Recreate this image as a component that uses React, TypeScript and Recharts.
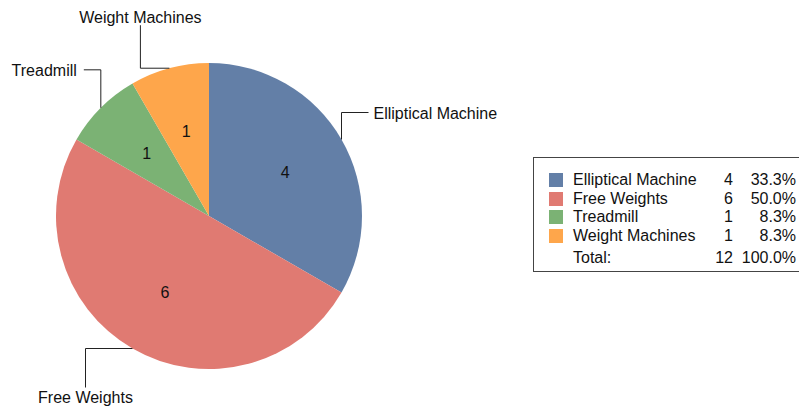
import { Cell, Pie, PieChart } from 'recharts';

const categories = ['Elliptical Machine', 'Free Weights', 'Treadmill', 'Weight Machines'];
const counts = [4, 6, 1, 1];
const percents = ['33.3%', '50.0%', '8.3%', '8.3%'];
const totalLabel = 'Total:';
const totalCount = 12;
const totalPercent = '100.0%';

const COLORS = ['#637fa7', '#e07a72', '#7bb274', '#fea64b'];
const FONT = 'Arial, "Liberation Sans", sans-serif';
const FS = 16;

// elbow leader for each slice: which way it leaves the edge first, and how far
const LEADERS = [
  { first: 'v', d1: -27, d2: 27, anchor: 'start' },
  { first: 'h', d1: -47, d2: 39, anchor: 'middle' },
  { first: 'v', d1: -38, d2: -17, anchor: 'end' },
  { first: 'h', d1: -29, d2: -43, anchor: 'middle' },
];

const data = categories.map((name, i) => ({ name, value: counts[i] }));

const RAD = Math.PI / 180;

const renderLabel = (props: any) => {
  const { cx, cy, midAngle, outerRadius, index, value, name } = props;
  const cos = Math.cos(-midAngle * RAD);
  const sin = Math.sin(-midAngle * RAD);
  const ix = cx + outerRadius * 0.575 * cos;
  const iy = cy + outerRadius * 0.575 * sin;
  const ex = cx + outerRadius * cos;
  const ey = cy + outerRadius * sin;
  const l = LEADERS[index];
  let mx: number, my: number, tx: number, ty: number;
  if (l.first === 'v') {
    mx = ex;
    my = ey + l.d1;
    tx = mx + l.d2;
    ty = my;
  } else {
    mx = ex + l.d1;
    my = ey;
    tx = mx;
    ty = my + l.d2;
  }
  let textX = tx;
  let textY = ty + 1;
  if (l.anchor === 'start') textX = tx + 5;
  if (l.anchor === 'end') textX = tx - 7;
  if (l.anchor === 'middle') textY = l.d2 > 0 ? ty + 10 : ty - 8;
  return (
    <g>
      <text x={ix} y={iy} textAnchor="middle" dominantBaseline="central" fontSize={FS} fontFamily={FONT} fill="#111">
        {value}
      </text>
      <polyline points={`${ex},${ey} ${mx},${my} ${tx},${ty}`} fill="none" stroke="#222" strokeWidth={1} />
      <text x={textX} y={textY} textAnchor={l.anchor as any} dominantBaseline="central" fontSize={FS} fontFamily={FONT} fill="#111">
        {name}
      </text>
    </g>
  );
};

const cellStyle = { padding: 0, lineHeight: '18.6px', whiteSpace: 'nowrap' as const };

const App = () => {
  return (
    <div style={{ position: 'relative', width: 807, height: 408, margin: '-8px -8px 0 -8px', background: '#fff' }}>
      <PieChart width={807} height={408} margin={{ top: 0, right: 0, bottom: 0, left: 0 }}>
        <Pie
          data={data}
          dataKey="value"
          nameKey="name"
          cx={209}
          cy={216}
          outerRadius={153}
          startAngle={90}
          endAngle={-270}
          stroke="none"
          label={renderLabel}
          labelLine={false}
          isAnimationActive={false}
        >
          {data.map((entry, index) => (
            <Cell key={entry.name} fill={COLORS[index]} />
          ))}
        </Pie>
      </PieChart>
      <div
        style={{
          position: 'absolute',
          left: 533,
          top: 157,
          width: 265,
          height: 113,
          border: '1px solid #444',
          fontFamily: FONT,
          fontSize: FS,
          color: '#111',
        }}
      >
        <table style={{ borderCollapse: 'collapse', position: 'absolute', left: 15, top: 13 }}>
          <tbody>
            {categories.map((name, i) => (
              <tr key={name}>
                <td style={{ ...cellStyle, width: 24 }}>
                  <div style={{ width: 14, height: 14, background: COLORS[i] }} />
                </td>
                <td style={{ ...cellStyle, width: 140 }}>{name}</td>
                <td style={{ ...cellStyle, width: 20, textAlign: 'right' }}>{counts[i]}</td>
                <td style={{ ...cellStyle, width: 63, textAlign: 'right' }}>{percents[i]}</td>
              </tr>
            ))}
            <tr>
              <td style={cellStyle} />
              <td style={{ ...cellStyle, paddingTop: 4 }}>{totalLabel}</td>
              <td style={{ ...cellStyle, paddingTop: 4, textAlign: 'right' }}>{totalCount}</td>
              <td style={{ ...cellStyle, paddingTop: 4, textAlign: 'right' }}>{totalPercent}</td>
            </tr>
          </tbody>
        </table>
      </div>
    </div>
  );
};

export default App;
